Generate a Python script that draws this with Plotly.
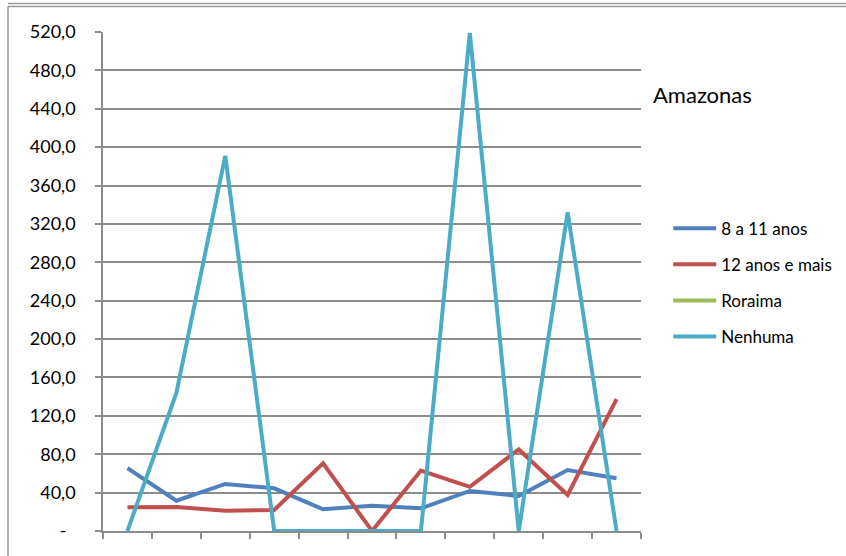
import plotly.graph_objects as go

categories = list(range(1, 12))
serie_8_11 = [65.6, 31.6, 49.0, 44.5, 22.6, 26.4, 23.6, 41.7, 36.5, 63.6, 54.9]
serie_12_mais = [24.7, 25.0, 21.2, 21.9, 70.5, 0.0, 63.0, 46.0, 85.0, 37.5, 137.5]
serie_roraima = [None] * 11
serie_nenhuma = [0, 143.8, 391.0, 0, 0, 0, 0, 519.0, 0, 332.0, 0]
y_ticks = [0, 40, 80, 120, 160, 200, 240, 280, 320, 360, 400, 440, 480, 520]
y_tick_labels = ["-\u00a0\u00a0"] + [f"{v},0" for v in y_ticks[1:]]

names = ["8 a 11 anos", "12 anos e mais", "Roraima", "Nenhuma"]
series = [serie_8_11, serie_12_mais, serie_roraima, serie_nenhuma]
colors = ["#4F81BD", "#C0504D", "#9BBB59", "#4BACC6"]

xpos = [c - 0.5 for c in categories]

fig = go.Figure()
for i, (n, s, c) in enumerate(zip(names, series, colors)):
    fig.add_trace(go.Scatter(x=xpos, y=s, name=n, mode="lines",
                             line=dict(color=c, width=4),
                             legendgroup=f"g{i}"))

grid = "#8C8C8C"
fig.update_layout(
    width=846, height=556,
    margin=dict(l=103, r=205, t=32, b=25, autoexpand=False),
    paper_bgcolor="white", plot_bgcolor="white",
    font=dict(family="Lato, Carlito, Calibri, sans-serif", color="black"),
    xaxis=dict(range=[0, 11], tickmode="array", tickvals=list(range(0, 12)),
               ticktext=[""] * 12, ticks="outside", ticklen=6, tickcolor=grid,
               tickwidth=1.5, showgrid=False, showline=True, linecolor=grid,
               linewidth=1.5, zeroline=False, fixedrange=True, automargin=False),
    yaxis=dict(range=[0, 520], tickmode="array", tickvals=y_ticks,
               ticktext=y_tick_labels, ticks="outside", ticklen=6, tickcolor=grid,
               tickwidth=1.5, showgrid=True, gridcolor=grid, gridwidth=1.5,
               showline=True, linecolor=grid, linewidth=1.5, zeroline=False,
               tickfont=dict(size=18), ticklabelstandoff=16, automargin=False),
    legend=dict(x=1.0506, y=0.642, xanchor="left", yanchor="top",
                font=dict(size=17), tracegroupgap=11, itemwidth=43,
                bgcolor="rgba(0,0,0,0)"),
    showlegend=True,
)

fig.add_annotation(x=1.0186, y=0.874, xref="paper", yref="paper",
                   text="Amazonas", showarrow=False, xanchor="left",
                   yanchor="middle", font=dict(size=22))

# chart frame
x_left = (8 - 103) / 538
fig.add_shape(type="line", xref="paper", yref="paper", x0=x_left, x1=2,
              y0=(531 - 3.5) / 499, y1=(531 - 3.5) / 499,
              line=dict(color="#9A9A9A", width=1.5))
fig.add_shape(type="line", xref="paper", yref="paper", x0=x_left, x1=2,
              y0=(531 - 6.5) / 499, y1=(531 - 6.5) / 499,
              line=dict(color="#9A9A9A", width=1.5))
fig.add_shape(type="line", xref="paper", yref="paper", x0=x_left, x1=x_left,
              y0=(531 - 6.5) / 499, y1=-0.2,
              line=dict(color="#9A9A9A", width=1.5))

fig.write_html("out.html", config={"displayModeBar": False},
               post_script="document.body.style.margin='0';document.body.style.overflow='hidden';")
